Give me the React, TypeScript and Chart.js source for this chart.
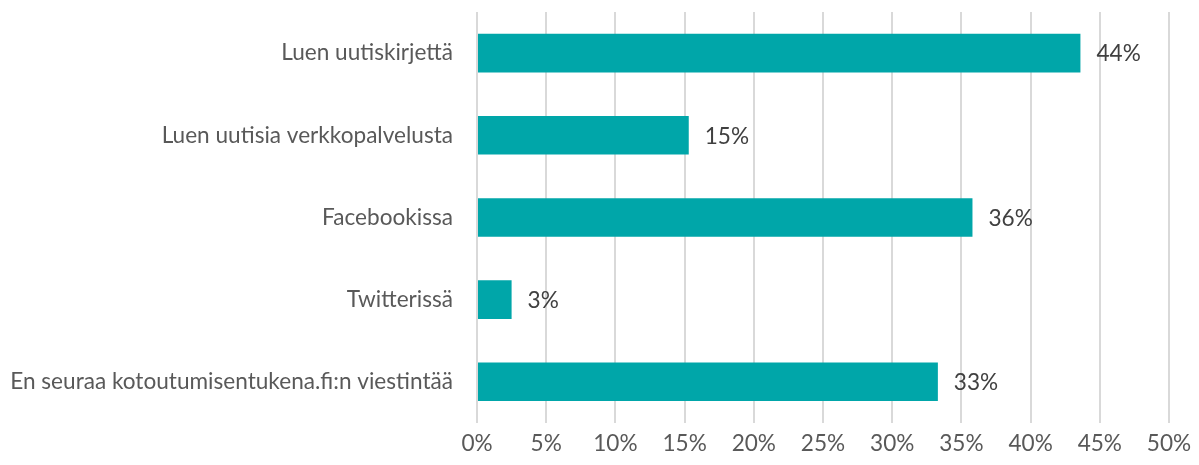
import React, { useEffect, useRef } from "react";
import { Chart, registerables } from "chart.js";

Chart.register(...registerables);

const categories = [
  "Luen uutiskirjettä",
  "Luen uutisia verkkopalvelusta",
  "Facebookissa",
  "Twitterissä",
  "En seuraa kotoutumisentukena.fi:n viestintää",
];
const values = [43.6, 15.3, 35.8, 2.5, 33.3];
const valueLabels = ["44%", "15%", "36%", "3%", "33%"];
const xTicks = [0, 5, 10, 15, 20, 25, 30, 35, 40, 45, 50];

const FONT = "Lato, 'Open Sans', sans-serif";
const FS = 22.6;

const dataLabelPlugin = {
  id: "dataLabels",
  afterDatasetsDraw(chart: any) {
    const ctx = chart.ctx;
    const meta = chart.getDatasetMeta(0);
    ctx.save();
    ctx.font = `${FS}px ${FONT}`;
    ctx.fillStyle = "#404040";
    ctx.textAlign = "left";
    ctx.textBaseline = "middle";
    meta.data.forEach((bar: any, i: number) => {
      ctx.fillText(valueLabels[i], bar.x + 16, bar.y + 1);
    });
    ctx.restore();
  },
};

export default function App() {
  const ref = useRef<HTMLCanvasElement | null>(null);
  useEffect(() => {
    if (!ref.current) return;
    const chart = new Chart(ref.current, {
      type: "bar",
      data: {
        labels: categories,
        datasets: [
          {
            data: values,
            backgroundColor: "#00A6A9",
            borderWidth: 0,
            categoryPercentage: 1,
            barPercentage: 0.47,
          },
        ],
      },
      options: {
        indexAxis: "y",
        animation: false,
        responsive: true,
        maintainAspectRatio: false,
        layout: { padding: { top: 12, right: 30, bottom: 1, left: 0 } },
        plugins: {
          legend: { display: false },
          tooltip: { enabled: false },
        },
        scales: {
          x: {
            min: 0,
            max: 50,
            afterBuildTicks: (scale: any) => {
              scale.ticks = xTicks.map((v) => ({ value: v }));
            },
            ticks: {
              callback: (v: any) => `${v}%`,
              color: "#595959",
              font: { family: FONT, size: FS },
              padding: 7,
              maxRotation: 0,
              autoSkip: false,
            },
            grid: {
              color: "#D9D9D9",
              lineWidth: 2,
              drawTicks: false,
            },
            border: { display: false },
          },
          y: {
            afterFit: (scale: any) => {
              scale.width = 477;
              scale.paddingTop = 0;
              scale.paddingBottom = 0;
            },
            ticks: {
              color: "#595959",
              font: { family: FONT, size: FS },
              padding: 24,
            },
            grid: { display: false, drawTicks: false },
            border: { display: false },
          },
        },
      },
      plugins: [dataLabelPlugin],
    });
    return () => chart.destroy();
  }, []);
  return (
    <div style={{ position: "fixed", left: 0, top: 0, width: 1199, height: 465, background: "#fff" }}>
      <canvas ref={ref} />
    </div>
  );
}
